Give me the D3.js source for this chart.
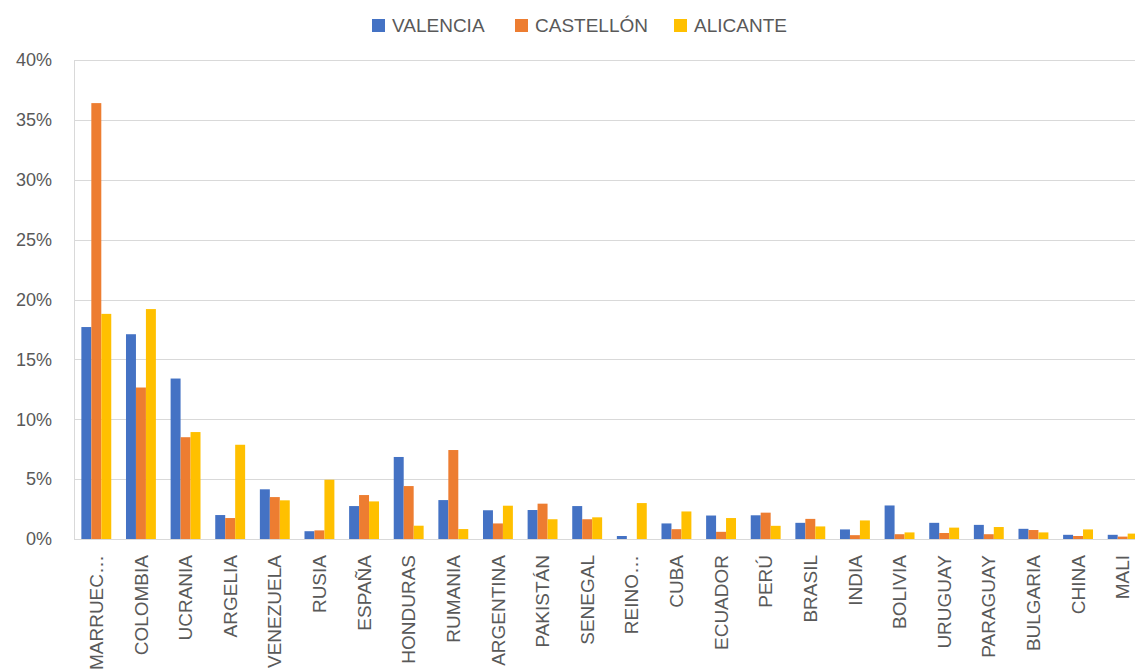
<!DOCTYPE html>
<html>
<head>
<meta charset="utf-8">
<script src="https://cdn.jsdelivr.net/npm/d3@7"></script>
<style>
  body { margin: 0; background: #fff; }
  text { font-family: "Liberation Sans", Arial, sans-serif; fill: #595959; }
</style>
</head>
<body>
<div id="chart"></div>
<script>
var svgWidth = 1135;
var svgHeight = 669;

// plot area (right edge runs past the picture, as in the original)
var margin = { top: 60, right: -10, bottom: 130, left: 74 };
var width = svgWidth - margin.left - margin.right;
var height = svgHeight - margin.top - margin.bottom;

var countries = ["MARRUECOS", "COLOMBIA", "UCRANIA", "ARGELIA", "VENEZUELA", "RUSIA",
  "ESPAÑA", "HONDURAS", "RUMANIA", "ARGENTINA", "PAKISTÁN", "SENEGAL", "REINO UNIDO",
  "CUBA", "ECUADOR", "PERÚ", "BRASIL", "INDIA", "BOLIVIA", "URUGUAY", "PARAGUAY",
  "BULGARIA", "CHINA", "MALI"];

// labels cut short in the original
var shortLabels = { "MARRUECOS": "MARRUEC…", "REINO UNIDO": "REINO…" };

var provinces = ["VALENCIA", "CASTELLÓN", "ALICANTE"];
var colors = ["#4472C4", "#ED7D31", "#FFC000"];

// percentages
var valencia = [17.7, 17.1, 13.4, 2.0, 4.15, 0.65, 2.75, 6.85, 3.25, 2.4, 2.42, 2.75, 0.25,
  1.3, 1.96, 1.98, 1.35, 0.8, 2.8, 1.35, 1.18, 0.85, 0.35, 0.35];
var castellon = [36.4, 12.65, 8.5, 1.75, 3.5, 0.72, 3.67, 4.42, 7.43, 1.3, 2.95, 1.65, 0.0,
  0.82, 0.6, 2.2, 1.68, 0.32, 0.4, 0.5, 0.4, 0.75, 0.25, 0.2];
var alicante = [18.8, 19.2, 8.93, 7.87, 3.23, 4.95, 3.14, 1.11, 0.83, 2.78, 1.65, 1.81, 3.0,
  2.3, 1.75, 1.1, 1.05, 1.55, 0.55, 0.95, 1.0, 0.55, 0.8, 0.45];

var yTicks = [0, 5, 10, 15, 20, 25, 30, 35, 40];

var series = [valencia, castellon, alicante];

var svg = d3.select("#chart")
  .append("svg")
  .attr("width", svgWidth)
  .attr("height", svgHeight);

var chartGroup = svg.append("g")
  .attr("transform", `translate(${margin.left}, ${margin.top})`);

var x0 = d3.scaleBand()
  .domain(countries)
  .range([0, width])
  .paddingInner(0.33)
  .paddingOuter(0.165);

var x1 = d3.scaleBand()
  .domain(d3.range(provinces.length))
  .range([0, x0.bandwidth()]);

var y = d3.scaleLinear()
  .domain([0, 40])
  .range([height, 0]);

// gridlines
chartGroup.append("g")
  .selectAll("line")
  .data(yTicks)
  .enter()
  .append("line")
  .attr("x1", 0)
  .attr("x2", width)
  .attr("y1", d => Math.round(y(d)) + 0.5)
  .attr("y2", d => Math.round(y(d)) + 0.5)
  .attr("stroke", "#D9D9D9")
  .attr("stroke-width", 1);

// left border line
chartGroup.append("line")
  .attr("x1", 0.5).attr("x2", 0.5)
  .attr("y1", 0).attr("y2", height)
  .attr("stroke", "#D9D9D9");

// y axis labels
var leftAxis = d3.axisLeft(y)
  .tickValues(yTicks)
  .tickSize(0)
  .tickPadding(22)
  .tickFormat(d => d + "%");

var yAxis = chartGroup.append("g")
  .call(leftAxis);
yAxis.select(".domain").remove();
yAxis.selectAll("text")
  .style("font-size", "18px")
  .attr("fill", "#595959");

// bars
var groups = chartGroup.selectAll(".country")
  .data(countries)
  .enter()
  .append("g")
  .attr("class", "country")
  .attr("transform", d => `translate(${x0(d)}, 0)`);

groups.selectAll("rect")
  .data((d, i) => series.map((s, j) => ({ j: j, v: s[i] })))
  .enter()
  .append("rect")
  .attr("x", d => x1(d.j))
  .attr("width", x1.bandwidth())
  .attr("y", d => y(d.v))
  .attr("height", d => height - y(d.v))
  .attr("fill", d => colors[d.j]);

// x axis baseline
chartGroup.append("line")
  .attr("x1", 0).attr("x2", width)
  .attr("y1", height + 0.5).attr("y2", height + 0.5)
  .attr("stroke", "#D9D9D9");

// x axis labels, rotated
var bottomAxis = d3.axisBottom(x0)
  .tickSize(0)
  .tickFormat(d => shortLabels[d] || d);

var xAxis = chartGroup.append("g")
  .attr("transform", `translate(0, ${height})`)
  .call(bottomAxis);
xAxis.select(".domain").remove();
xAxis.selectAll("text")
  .style("font-size", "19px")
  .attr("fill", "#595959")
  .attr("text-anchor", "end")
  .attr("transform", "rotate(-90)")
  .attr("x", -16)
  .attr("y", 0)
  .attr("dy", "0.35em");

// legend
var legendX = [372, 515, 674];
var legend = svg.append("g");

var items = legend.selectAll("g")
  .data(provinces)
  .enter()
  .append("g")
  .attr("transform", (d, i) => `translate(${legendX[i]}, 19)`);

items.append("rect")
  .attr("width", 13)
  .attr("height", 13)
  .attr("fill", (d, i) => colors[i]);

items.append("text")
  .attr("x", 20)
  .attr("y", 6.5)
  .attr("dy", "0.35em")
  .style("font-size", "19px")
  .text(d => d);
</script>
</body>
</html>
